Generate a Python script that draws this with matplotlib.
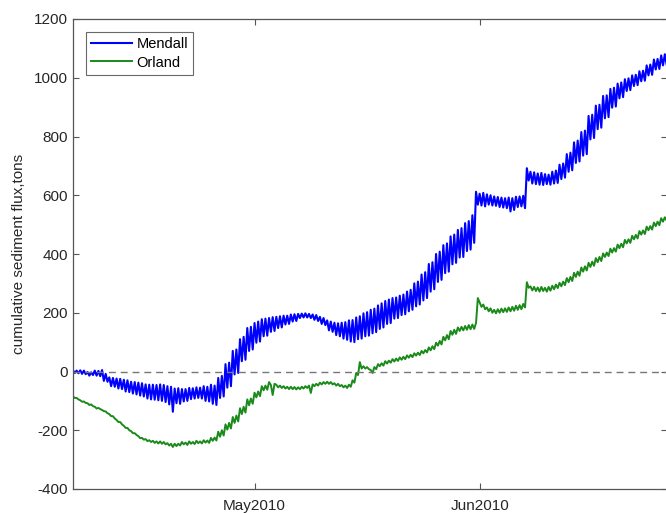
import matplotlib
matplotlib.use("Agg")
import matplotlib.pyplot as plt
import matplotlib.dates as mdates
import numpy as np
import pandas as pd

# cumulative sediment flux (tons), sampled every 6 h from 2010-04-06 00:00
# one row per day: high, low, high, low (semi-diurnal tide)
mendall = [
    4, -5, 3, -6,        4, -8, 3, -9,        -2, -14, -3, -12,    3, -14, 2, -16,
    5, -32, -8, -35,     -20, -50, -22, -52,  -24, -58, -25, -60,  -28, -68, -30, -70,
    -35, -75, -36, -78,  -38, -82, -40, -85,  -44, -92, -45, -95,  -45, -96, -46, -98,
    -44, -100, -46, -104, -50, -112, -52, -137, -58, -108, -57, -110, -60, -102, -60, -100,
    -56, -94, -57, -92,  -54, -90, -55, -92,  -50, -100, -52, -102, -45, -110, -48, -114,
    -22, -90, -15, -85,  25, -55, 30, -50,    70, -10, 75, -5,     110, 35, 118, 40,
    148, 70, 152, 75,    165, 98, 170, 102,   178, 120, 180, 122,   182, 135, 185, 138,
    186, 148, 188, 150,  190, 160, 190, 162,  194, 170, 195, 172,   196, 182, 197, 184,
    198, 184, 196, 182,  194, 176, 192, 172,  186, 162, 182, 158,   174, 140, 170, 135,
    166, 124, 164, 120,  166, 112, 168, 108,  174, 102, 175, 100,   184, 110, 188, 112,
    198, 120, 202, 122,  210, 130, 214, 134,  225, 145, 232, 150,   240, 162, 245, 165,
    250, 180, 252, 182,  258, 192, 262, 195,  272, 205, 278, 210,   300, 222, 306, 228,
    330, 242, 338, 250,  366, 272, 372, 280,  400, 305, 408, 312,   430, 335, 436, 340,
    460, 365, 466, 370,  482, 388, 488, 390,  505, 410, 512, 415,   532, 438, 612, 568,
    605, 565, 608, 562,  603, 568, 600, 565,  596, 564, 594, 560,   592, 558, 590, 556,
    592, 545, 590, 550,  595, 560, 596, 562,  598, 556, 692, 650,   680, 640, 678, 638,
    674, 636, 676, 635,  672, 638, 670, 636,  680, 640, 684, 642,   704, 655, 708, 660,
    740, 680, 745, 685,  780, 710, 786, 715,  815, 735, 820, 740,   870, 790, 874, 795,
    905, 825, 908, 830,  938, 862, 940, 866,  962, 898, 966, 902,   980, 930, 984, 934,
    995, 955, 998, 958,  1008, 972, 1010, 975, 1022, 988, 1024, 990, 1042, 1008, 1045, 1010,
    1062, 1028, 1064, 1030, 1076, 1042, 1080, 1045,
]

orland = [
    -85, -90, -90, -95,      -98, -103, -102, -107,   -108, -114, -112, -118,  -120, -126, -124, -128,
    -131, -135, -136, -142,  -145, -152, -152, -160,  -165, -172, -172, -180,  -185, -192, -192, -200,
    -203, -210, -210, -216,  -220, -227, -226, -232,  -230, -237, -234, -240,  -236, -243, -238, -245,
    -238, -246, -240, -248,  -244, -252, -246, -257,  -246, -254, -246, -252,  -240, -248, -242, -250,
    -238, -246, -240, -247,  -236, -244, -238, -245,  -234, -242, -235, -243,  -226, -236, -225, -235,
    -205, -222, -200, -218,  -180, -198, -175, -194,  -155, -175, -150, -170,  -125, -145, -120, -140,
    -95, -115, -92, -110,    -72, -88, -68, -84,      -50, -64, -48, -62,      -36, -46, -80, -42,
    -45, -54, -48, -56,      -50, -58, -52, -60,      -52, -60, -53, -61,      -54, -60, -52, -58,
    -50, -56, -48, -73,      -44, -50, -42, -48,      -38, -44, -36, -42,      -35, -42, -36, -44,
    -40, -48, -42, -50,      -46, -54, -48, -56,      -45, -52, -30, -38,      -5, -12, 32, 10,
    18, 10, 15, 8,           5, -5, 15, 8,            25, 18, 28, 20,          35, 27, 37, 30,
    42, 34, 44, 36,          48, 40, 50, 42,          55, 47, 57, 49,          62, 54, 64, 56,
    70, 62, 73, 65,          82, 72, 86, 76,          98, 88, 104, 92,         118, 106, 124, 110,
    138, 125, 142, 128,      150, 138, 152, 140,      155, 142, 158, 144,      160, 145, 165, 250,
    235, 220, 228, 212,      218, 205, 215, 200,      210, 198, 212, 200,      214, 202, 215, 203,
    218, 205, 220, 207,      224, 210, 226, 212,      230, 218, 304, 285,      290, 276, 288, 274,
    286, 272, 288, 274,      285, 272, 288, 275,      292, 280, 296, 284,      302, 290, 306, 294,
    318, 304, 322, 308,      336, 322, 340, 326,      354, 340, 358, 344,      370, 356, 374, 360,
    386, 372, 390, 376,      402, 390, 405, 393,      418, 405, 420, 408,      432, 420, 435, 423,
    448, 436, 450, 438,      462, 450, 465, 453,      478, 466, 480, 468,      493, 481, 495, 483,
    507, 495, 510, 498,      522, 510, 525, 514,
]

series_names = ["Mendall", "Orland"]
tick_dates = ["2010-05-01", "2010-06-01"]
tick_labels = ["May2010", "Jun2010"]
y_ticks = [-400, -200, 0, 200, 400, 600, 800, 1000, 1200]

t_start = pd.Timestamp("2010-04-06 00:00")
times = pd.date_range(t_start, periods=len(mendall), freq="6h")

plt.rcParams["font.family"] = ["Liberation Sans", "DejaVu Sans"]
plt.rcParams["axes.unicode_minus"] = False

fig = plt.figure(figsize=(6.66, 5.13), dpi=100)
ax = fig.add_axes([73 / 666, 24 / 513, 594 / 666, 470 / 513])

ax.plot(times, mendall, color="#0000ff", lw=1.5, label=series_names[0])
ax.plot(times, orland, color="#1a8a1a", lw=1.4, label=series_names[1])
ax.axhline(0, color="#777777", ls=(0, (5, 3.5)), lw=1.0)

ax.set_xlim(t_start, t_start + pd.Timedelta(days=81.8))
ax.set_ylim(-400, 1200)
ax.set_yticks(y_ticks)
ax.set_xticks(pd.to_datetime(tick_dates))
ax.set_xticklabels(tick_labels)

ax.tick_params(direction="in", length=4, width=0.8, color="#555555",
               labelcolor="#262626", labelsize=11,
               top=True, right=True)
ax.tick_params(axis="x", pad=7)
for sp in ax.spines.values():
    sp.set_color("#555555")
    sp.set_linewidth(0.9)

ax.set_ylabel("cumulative sediment flux,tons", fontsize=11, color="#262626", labelpad=6)

leg = ax.legend(loc="upper left", fontsize=10.5, frameon=True, fancybox=False,
                edgecolor="#444444", borderaxespad=0.9, handlelength=2.8,
                handletextpad=0.3, borderpad=0.35, labelspacing=0.3)
leg.get_frame().set_linewidth(0.8)

fig.savefig("out.png", dpi=100)
